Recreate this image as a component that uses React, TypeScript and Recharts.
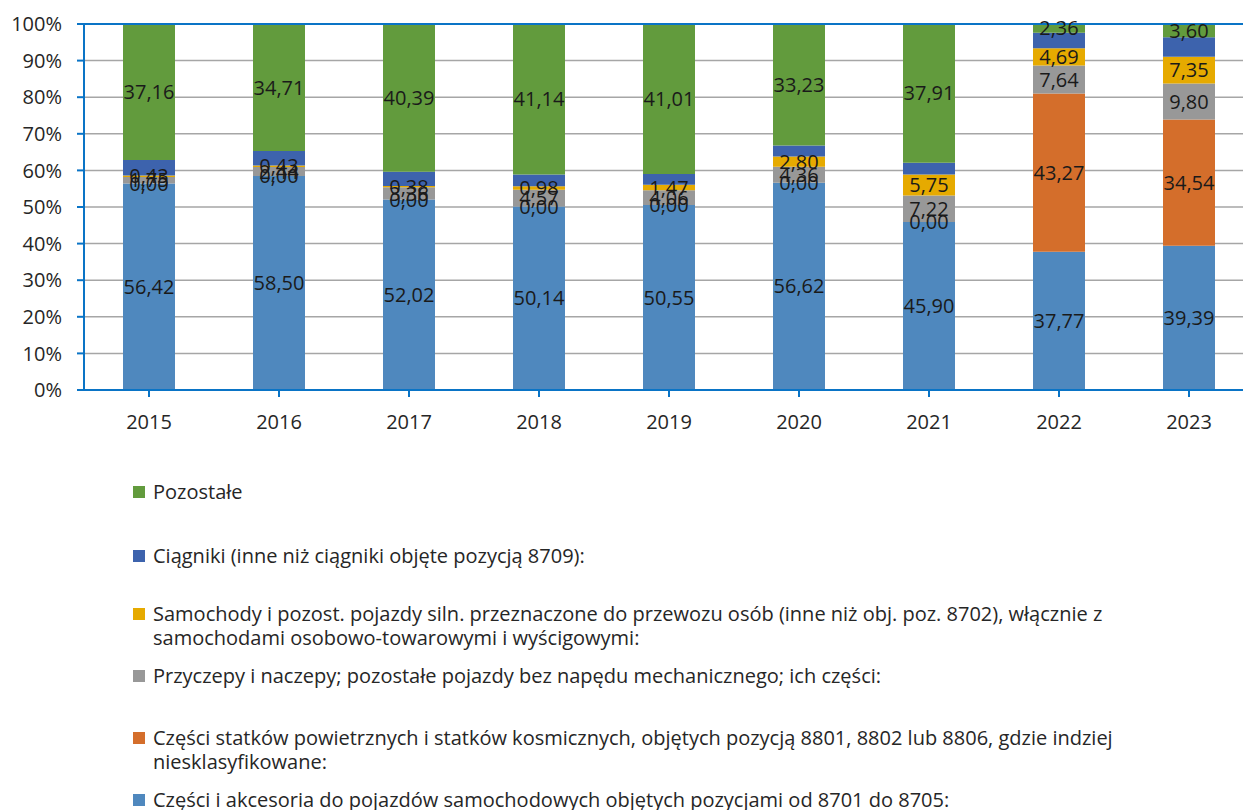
// Stacked 100% bar chart: structure of exports by product group, 2015–2023.

import { Bar, BarChart, CartesianGrid, LabelList, Legend, ReferenceLine, XAxis, YAxis } from "recharts";

const years = ["2015", "2016", "2017", "2018", "2019", "2020", "2021", "2022", "2023"];

// shares in %, bottom to top
const czesci = [56.42, 58.5, 52.02, 50.14, 50.55, 56.62, 45.9, 37.77, 39.39];
const statki = [0, 0, 0, 0, 0, 0, 0, 43.27, 34.54];
const przyczepy = [1.75, 2.44, 3.36, 4.57, 4.06, 4.36, 7.22, 7.64, 9.8];
const samochody = [0.43, 0.43, 0.38, 0.98, 1.47, 2.8, 5.75, 4.69, 7.35];
const ciagniki = [4.24, 3.92, 3.85, 3.17, 2.91, 2.99, 3.22, 4.27, 5.32];
const pozostale = [37.16, 34.71, 40.39, 41.14, 41.01, 33.23, 37.91, 2.36, 3.6];

const yTicks = [0, 10, 20, 30, 40, 50, 60, 70, 80, 90, 100];

const data = years.map((y, i) => ({
  year: y,
  czesci: czesci[i],
  statki: statki[i],
  przyczepy: przyczepy[i],
  samochody: samochody[i],
  ciagniki: ciagniki[i],
  pozostale: pozostale[i],
}));

const series = [
  { key: "czesci", color: "#4F88BE", label: true, name: "Części i akcesoria do pojazdów samochodowych objętych pozycjami od 8701 do 8705:" },
  { key: "statki", color: "#D46E2B", label: true, name: "Części statków powietrznych i statków kosmicznych, objętych pozycją 8801, 8802 lub 8806, gdzie indziej niesklasyfikowane:" },
  { key: "przyczepy", color: "#989898", label: true, name: "Przyczepy i naczepy; pozostałe pojazdy bez napędu mechanicznego; ich części:" },
  { key: "samochody", color: "#E6AA00", label: true, name: "Samochody i pozost. pojazdy siln. przeznaczone do przewozu osób (inne niż obj. poz. 8702), włącznie z samochodami osobowo-towarowymi i wyścigowymi:" },
  { key: "ciagniki", color: "#3D63AD", label: false, name: "Ciągniki (inne niż ciągniki objęte pozycją 8709):" },
  { key: "pozostale", color: "#629B3D", label: true, name: "Pozostałe" },
];

const FONT = "'Open Sans', 'Noto Sans', sans-serif";
const AXIS = "#0A74C6";
const TEXT = "#262626";

// gap above each legend entry (legend listed top to bottom)
const legendGaps = [0, 40, 34, 14, 38, 14];

function LegendBox() {
  const items = [...series].reverse();
  return (
    <div style={{ fontFamily: FONT, fontSize: 20, color: TEXT, width: 1060 }}>
      {items.map((s, i) => (
        <div key={s.key} style={{ display: "flex", alignItems: "flex-start", marginTop: legendGaps[i], lineHeight: "24px" }}>
          <span style={{ width: 12, height: 12, background: s.color, marginTop: 6, marginRight: 8, flex: "none" }} />
          <span>{s.name}</span>
        </div>
      ))}
    </div>
  );
}

const fmt = (v: any) => Number(v).toFixed(2).replace(".", ",");

export default function App() {
  return (
    <div style={{ position: "absolute", left: 0, top: 0, width: 1243, height: 810, overflow: "hidden", background: "#fff" }}>
      <BarChart width={1262} height={810} data={data} barSize={52}
                margin={{ top: 24, right: 8, bottom: 380, left: 4 }}>
        <CartesianGrid vertical={false} stroke="#A6A6A6" strokeWidth={1.5} />
        <XAxis dataKey="year" stroke={AXIS} strokeWidth={2} tickSize={7} height={40}
               tick={{ fill: TEXT, fontSize: 20, fontFamily: FONT }} tickMargin={18}
               interval={0} />
        <YAxis domain={[0, 100]} ticks={yTicks} width={80} stroke={AXIS} strokeWidth={2} tickSize={7}
               tickMargin={15} tickFormatter={(v) => `${v}%`} allowDataOverflow
               tick={{ fill: TEXT, fontSize: 20, fontFamily: FONT }} />
        <ReferenceLine y={100} stroke={AXIS} strokeWidth={2} />
        {series.map((s) => (
          <Bar key={s.key} dataKey={s.key} name={s.name} stackId="a" fill={s.color}
               minPointSize={0.01} isAnimationActive={false}>
            {s.label && (
              <LabelList dataKey={s.key} position="center" formatter={fmt}
                         style={{ fill: "#1A1A1A", fontSize: 20, fontFamily: FONT }} />
            )}
          </Bar>
        ))}
        <Legend layout="vertical" align="center" verticalAlign="middle" content={() => <LegendBox />}
                wrapperStyle={{ left: 133, top: 480, width: 1110 }} />
      </BarChart>
    </div>
  );
}
